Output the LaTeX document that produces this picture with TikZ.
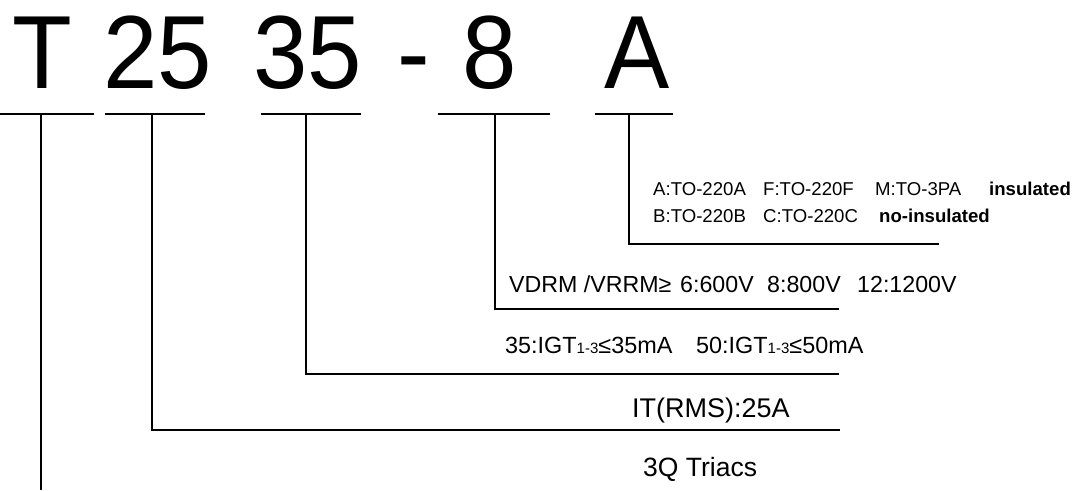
\documentclass[tikz,border=0pt]{standalone}
\usepackage{fontspec}
\setmainfont{Liberation Sans}
\begin{document}
\begin{tikzpicture}[x=1pt,y=-1pt,
  big/.style={font=\fontsize{104}{104}\selectfont, anchor=base, inner sep=0pt, xscale=0.94},
  lbl/.style={anchor=base west, inner sep=0pt},
  sa/.style={lbl, font=\fontsize{18.6}{20}\selectfont},
  sb/.style={lbl, font=\fontsize{23.2}{25}\selectfont},
  sc/.style={lbl, font=\fontsize{23.4}{25}\selectfont},
  sd/.style={lbl, font=\fontsize{27}{29}\selectfont},
  uline/.style={line width=1.5pt},
  bracket/.style={line width=1.7pt, line join=miter}]
\useasboundingbox (0,0) rectangle (1079,490);

% big code letters
\node[big] (T) at (42,88) {T};
\node[big] (n25) at (158,88) {25};
\node[big] (n35) at (308,88) {35};
\node[big] (dash) at (414,88) {-};
\node[big] (n8) at (490,88) {8};
\node[big] (nA) at (637,88) {A};

% underlines
\coordinate (u1a) at (0,114);   \coordinate (u1b) at (94,114);
\coordinate (u2a) at (105,114); \coordinate (u2b) at (205,114);
\coordinate (u3a) at (261,114); \coordinate (u3b) at (361,114);
\coordinate (u4a) at (438,114); \coordinate (u4b) at (550,114);
\coordinate (u5a) at (595,114); \coordinate (u5b) at (673,114);
\draw[uline] (u1a) -- (u1b);
\draw[uline] (u2a) -- (u2b);
\draw[uline] (u3a) -- (u3b);
\draw[uline] (u4a) -- (u4b);
\draw[uline] (u5a) -- (u5b);

% bracket tops and ends
\coordinate (bT) at (41,114);  \coordinate (eT) at (41,490);
\coordinate (b25) at (152,114); \coordinate (e25) at (840,430);
\coordinate (b35) at (306,114); \coordinate (e35) at (839,374);
\coordinate (b8) at (495,114);  \coordinate (e8) at (839,309);
\coordinate (bA) at (629,114);  \coordinate (eA) at (939,244);
\draw[bracket] (bT) -- (eT);
\draw[bracket] (b25) |- (e25);
\draw[bracket] (b35) |- (e35);
\draw[bracket] (b8) |- (e8);
\draw[bracket] (bA) |- (eA);

% package line
\node[sa] (pA) at (653,195) {A:TO-220A};
\node[sa] (pF) at (763,195) {F:TO-220F};
\node[sa] (pM) at (875,195) {M:TO-3PA};
\node[sa, font=\fontsize{18.6}{20}\selectfont\bfseries] (ins) at (989,195) {insulated};
\node[sa] (pB) at (653,222) {B:TO-220B};
\node[sa] (pC) at (763,222) {C:TO-220C};
\node[sa, font=\fontsize{18.6}{20}\selectfont\bfseries] (noins) at (879,222) {no-insulated};

% voltage line
\node[sb] (vd) at (509,292) {VDRM /VRRM≥};
\node[sb] (v6) at (680,292) {6:600V};
\node[sb] (v8) at (767,292) {8:800V};
\node[sb] (v12) at (857,292) {12:1200V};

% gate current line
\node[sc] (g35) at (505,353) {35:IGT{\fontsize{15}{16}\selectfont 1-3}≤35mA};
\node[sc] (g50) at (696,353) {50:IGT{\fontsize{15}{16}\selectfont 1-3}≤50mA};

% current and type
\node[sd] (it) at (632,417) {IT(RMS):25A};
\node[sd, font=\fontsize{26.5}{28}\selectfont] (tri) at (643,476) {3Q Triacs};
\end{tikzpicture}
\end{document}
